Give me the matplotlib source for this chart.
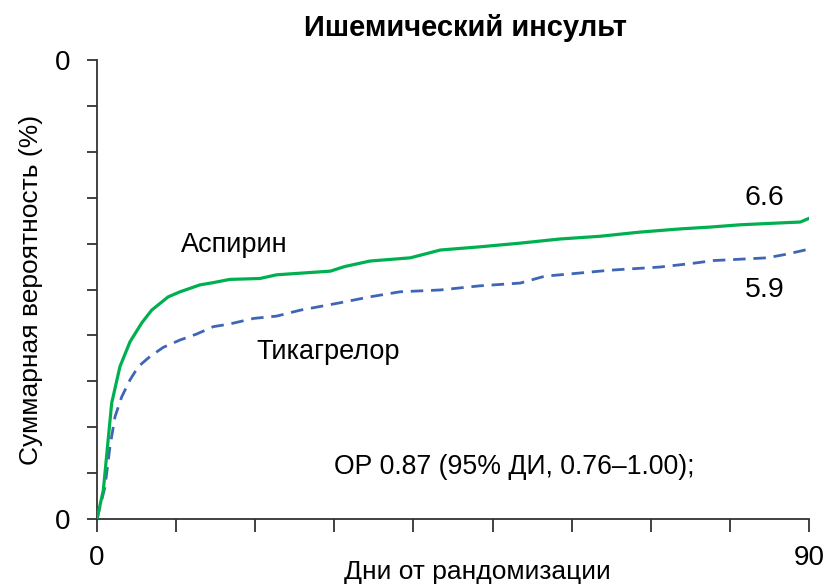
import matplotlib
matplotlib.use("Agg")
import matplotlib.pyplot as plt

plt.rcParams['font.family'] = ['Liberation Sans', 'DejaVu Sans']

# Data
aspirin_days = [0, 0.8, 1.86, 2.9, 4.17, 5.65, 6.91, 9.0, 10.5, 13.0, 14.7, 16.8, 20.6, 22.7,
                29.5, 31.3, 34.5, 39.6, 43.4, 48.4, 53.5, 58.5, 63.6, 68.6, 73.7, 77.5,
                81.3, 86.3, 88.9, 90]
aspirin_vals = [0, 0.63, 2.53, 3.32, 3.86, 4.27, 4.55, 4.84, 4.95, 5.10, 5.15, 5.22, 5.24, 5.32,
                5.40, 5.50, 5.62, 5.69, 5.86, 5.93, 6.01, 6.10, 6.16, 6.25, 6.32, 6.36,
                6.41, 6.45, 6.47, 6.55]
ticag_days = [0, 1.01, 1.64, 2.28, 3.12, 4.17, 5.22, 6.7, 8.38, 10.5, 12.6, 14.7, 16.8, 19.8,
              22.7, 25.7, 30.7, 34.5, 38.3, 43.4, 48.4, 53.5, 56.6, 61.1, 64.8, 71.2, 75.3,
              77.9, 84.7, 87.2, 90]
ticag_vals = [0, 0.70, 1.58, 2.23, 2.66, 3.03, 3.32, 3.54, 3.74, 3.90, 4.03, 4.19, 4.25, 4.37,
              4.42, 4.55, 4.71, 4.84, 4.95, 4.99, 5.08, 5.14, 5.29, 5.36, 5.42, 5.49, 5.57,
              5.63, 5.69, 5.77, 5.88]
x_ticks = list(range(0, 91, 10))
x_ticklabels = ['0', '', '', '', '', '', '', '', '', '90']
y_ticks = list(range(0, 11))
y_ticklabels = ['0'] + [''] * 9 + ['0']

fig = plt.figure(figsize=(8.25, 5.86), dpi=100)
ax = fig.add_axes([97/825, 1 - 519/586, (809 - 97)/825, (519 - 60)/586])

ax.plot(aspirin_days, aspirin_vals, color='#00B050', lw=2.3, solid_joinstyle='round', zorder=3)
ax.plot(ticag_days, ticag_vals, color='#3F66B4', lw=2.0, dashes=(4.5, 2.8), zorder=2)

tick_font = ['Liberation Sans Narrow', 'Liberation Sans', 'DejaVu Sans']
ax.set_xlim(0, 90)
ax.set_ylim(0, 10)
ax.set_xticks(x_ticks)
ax.set_xticklabels(x_ticklabels, fontsize=20, family=tick_font)
ax.set_yticks(y_ticks)
ax.set_yticklabels(y_ticklabels, fontsize=20, family=tick_font)
ax.tick_params(axis='x', length=9, width=1.3, pad=9.5, color='#333333')
ax.tick_params(axis='y', length=7.5, width=1.3, pad=11.5, color='#333333')
for s in ['top', 'right']:
    ax.spines[s].set_visible(False)
for s in ['left', 'bottom']:
    ax.spines[s].set_linewidth(1.3)
    ax.spines[s].set_color('#333333')
ax.margins(0)

ax.set_title('Ишемический инсульт', fontsize=21, fontweight='bold', pad=17, x=0.5176)
ax.set_xlabel('Дни от рандомизации', fontsize=19)
ax.xaxis.set_label_coords(0.534, -0.09)
ax.set_ylabel('Суммарная вероятность (%)', fontsize=19, labelpad=9)

ax.text(17.4, 5.97, 'Аспирин', fontsize=19.5, ha='center', va='center')
ax.text(29.2, 3.64, 'Тикагрелор', fontsize=19.5, ha='center', va='center')
ax.text(84.4, 6.99, '6.6', fontsize=20.5, ha='center', va='center')
ax.text(84.4, 4.99, '5.9', fontsize=20.5, ha='center', va='center')
ax.text(52.8, 1.13, 'ОР 0.87 (95% ДИ, 0.76–1.00);', fontsize=19.2, ha='center', va='center')

fig.savefig('out.png', dpi=100)
